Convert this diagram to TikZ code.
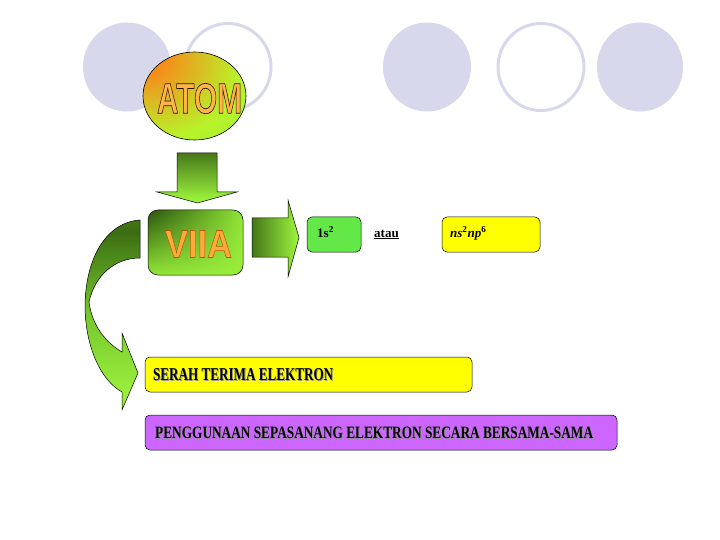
\documentclass[tikz,border=0pt]{standalone}
\usepackage{fontspec}
\setmainfont{Liberation Serif}
\newfontfamily\wordart{Liberation Sans}
\usepackage{graphicx}
\usetikzlibrary{shapes.geometric,shadings}
\definecolor{lav}{RGB}{216,216,236}
\definecolor{lgreen}{RGB}{153,238,60}
\definecolor{midgreen}{RGB}{110,190,40}
\definecolor{dkgreen}{RGB}{25,55,5}
\definecolor{atomor}{RGB}{255,125,25}
\definecolor{txtor}{RGB}{255,180,70}
\definecolor{boxgreen}{RGB}{100,232,72}
\definecolor{boxyellow}{RGB}{255,255,0}
\definecolor{boxpurple}{RGB}{204,102,255}
\definecolor{shadowgray}{RGB}{150,150,150}
\pgfdeclareradialshading{atomshade}{\pgfpoint{-26bp}{24bp}}{color(0bp)=(atomor); color(5bp)=(atomor); color(40bp)=(lgreen!70!yellow); color(70bp)=(lgreen); color(130bp)=(lgreen)}
\pgfdeclareverticalshading{downarr}{100bp}{color(0bp)=(lgreen); color(30bp)=(lgreen); color(100bp)=(dkgreen)}
\pgfdeclarehorizontalshading{rightarr}{100bp}{color(0bp)=(dkgreen); color(72bp)=(lgreen); color(100bp)=(lgreen)}
\pgfdeclareverticalshading{curvarr}{100bp}{color(0bp)=(lgreen); color(30bp)=(lgreen); color(50bp)=(midgreen!80!lgreen); color(72bp)=(dkgreen!60!midgreen); color(100bp)=(midgreen)}
\newcommand{\outl}[2]{\special{pdf:literal direct 2 Tr #1 RG}#2\special{pdf:literal direct 0 Tr}}
\newcommand{\shd}[1]{\makebox[0pt][l]{\hspace{0.06em}\raisebox{-0.06em}{\color{shadowgray}#1}}#1}
\tikzset{
  deco/.style={fill=lav, draw=none},
  decoring/.style={draw=lav, line width=3pt, fill=none},
  blockarrow/.style={draw=black, line width=0.5pt},
  box/.style={draw=black, line width=0.5pt, rounded corners=5pt, inner sep=0pt},
  lbl/.style={inner sep=0pt, anchor=base west, font=\fontsize{13}{13}\selectfont\bfseries},
  wa/.style={inner sep=0pt}
}
\begin{document}
\begin{tikzpicture}[x=1pt,y=-1pt]
\useasboundingbox (0,0) rectangle (720,540);
% decorative circles
\fill[deco] (127,67) ellipse [x radius=44pt, y radius=44.5pt];
\draw[decoring] (228,67) ellipse [x radius=43pt, y radius=43.5pt];
\fill[deco] (427,67) ellipse [x radius=44pt, y radius=44.5pt];
\draw[decoring] (541,67) ellipse [x radius=43pt, y radius=43.5pt];
\fill[deco] (640,67) ellipse [x radius=43pt, y radius=44.5pt];
% ATOM
\node[draw=black, line width=0.6pt, ellipse, minimum width=103pt, minimum height=88pt, inner sep=0pt, shading=atomshade] (atom) at (194.5,96) {};
\node[wa] (atomtxt) at (199.5,98.5) {\resizebox{85pt}{30pt}{\color{txtor}\wordart\bfseries\outl{0.16 w 0.15 0.08 0}{ATOM}}};
% down arrow
\path[blockarrow, shading=downarr] (177,153) -- (217,153) -- (217,192) -- (237,192) -- (197.5,203) -- (157,192) -- (177,192) -- cycle;
% VIIA box
\node[draw=black, line width=0.5pt, rounded corners=10pt, minimum width=95pt, minimum height=65pt, inner sep=0pt,
  upper left=dkgreen!80!midgreen, upper right=lgreen!80!midgreen, lower left=lgreen!85!midgreen, lower right=lgreen] (viia) at (195.5,242.5) {};
\node[wa] (viiatxt) at (198.5,244) {\resizebox{67pt}{27pt}{\color{txtor!80!orange}\wordart\bfseries\outl{0.14 w 0.7 0.35 0.05}{VIIA}}};
% right arrow
\path[blockarrow, shading=rightarr] (252,218) -- (288,218) -- (288,200) -- (299,237.5) -- (288,277) -- (288,257) -- (252,257) -- cycle;
% small boxes
\node[box, fill=boxgreen, minimum width=54pt, minimum height=35pt] (s1) at (334,234.5) {};
\node[lbl] (s1txt) at (317,237) {1s$^{\mathbf 2}$};
\node[lbl] (atau) at (374,237) {\underline{atau}};
\node[box, fill=boxyellow, minimum width=98pt, minimum height=35pt] (nsnp) at (491,234.5) {};
\node[lbl] (nsnptxt) at (450,237) {\itshape ns$^{\mathbf 2}$np$^{\mathbf 6}$};
% curved arrow
\path[blockarrow, shading=curvarr] (140,220) .. controls (108,222) and (86,255) .. (85,305)
  .. controls (85,345) and (100,380) .. (122,392)
  -- (122,410) -- (138,373) -- (122,333) -- (122,352)
  .. controls (105,342) and (92,325) .. (89,302)
  .. controls (95,275) and (115,258) .. (140,258) -- cycle;
% bottom boxes
\node[box, fill=boxyellow, minimum width=327pt, minimum height=35pt] (serah) at (308.5,374.5) {};
\node[wa, anchor=west] (serahtxt) at (153,375) {\resizebox{180pt}{12pt}{\bfseries\shd{SERAH TERIMA ELEKTRON}}};
\node[box, fill=boxpurple, minimum width=472pt, minimum height=35pt] (peng) at (381,432.5) {};
\node[wa, anchor=west] (pengtxt) at (155,433) {\resizebox{438pt}{11.5pt}{\bfseries\shd{PENGGUNAAN SEPASANANG ELEKTRON SECARA BERSAMA-SAMA}}};
\end{tikzpicture}
\end{document}
